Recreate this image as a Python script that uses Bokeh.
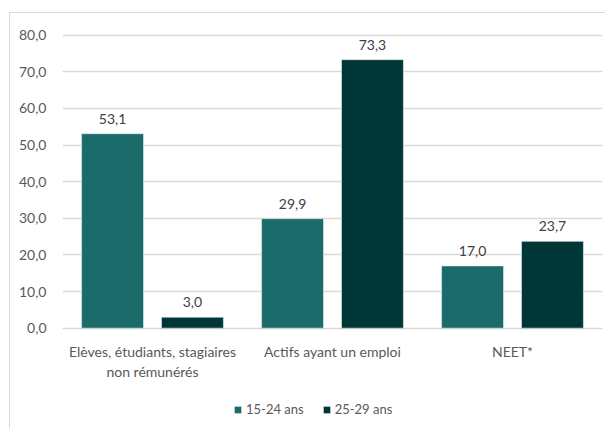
from bokeh.plotting import figure
from bokeh.models import ColumnDataSource, Range1d, FactorRange, CustomJSTickFormatter, Legend, LegendItem, LabelSet
from bokeh.core.properties import value
from bokeh.transform import dodge
from bokeh.embed import file_html
from bokeh.resources import INLINE

categories = ["Elèves, étudiants, stagiaires\nnon rémunérés", "Actifs ayant un emploi", "NEET*"]
series_names = ["15-24 ans", "25-29 ans"]
values_15_24 = [53.1, 29.9, 17.0]
values_25_29 = [3.0, 73.3, 23.7]
y_ticks = [0, 10, 20, 30, 40, 50, 60, 70, 80]

colors = ["#1b6b6b", "#003636"]
FONT = "Lato"

line1 = [c.split("\n")[0] for c in categories]
line2 = [c.split("\n")[1] if "\n" in c else "" for c in categories]

src = ColumnDataSource(dict(
    cat=categories,
    zero=[0] * len(categories),
    l1=line1,
    l2=line2,
    a=values_15_24,
    b=values_25_29,
    a_lbl=[f"{v:.1f}".replace(".", ",") for v in values_15_24],
    b_lbl=[f"{v:.1f}".replace(".", ",") for v in values_25_29],
))

p = figure(width=596, height=416, x_range=FactorRange(*categories), y_range=Range1d(-27.67, 81),
           output_backend="svg", toolbar_location=None,
           min_border_left=52, min_border_right=4, min_border_top=18, min_border_bottom=0)
p.styles = {"border-left": "1px solid #d9d9d9", "border-top": "1px solid #d9d9d9",
            "margin-left": "9px", "margin-top": "12px"}
p.outline_line_color = None
p.x_range.range_padding = 0

r1 = p.vbar(x=dodge("cat", -0.222, range=p.x_range), top="a", width=0.344, source=src,
            fill_color=colors[0], line_color="#e8f0f0", line_width=0.6)
r2 = p.vbar(x=dodge("cat", 0.222, range=p.x_range), top="b", width=0.344, source=src,
            fill_color=colors[1], line_color="#e8f0f0", line_width=0.6)

for col, lbl, off in [("a", "a_lbl", -0.222), ("b", "b_lbl", 0.222)]:
    ls = LabelSet(x=dodge("cat", off, range=p.x_range), y=col, text=lbl, source=src,
                  text_align="center", text_baseline="bottom", y_offset=10,
                  text_font=value(FONT), text_font_size="14px", text_color="#404040")
    p.add_layout(ls)

for field, yoff in [("l1", -15), ("l2", -35)]:
    cl = LabelSet(x="cat", y="zero", text=field, source=src,
                  text_align="center", text_baseline="top", y_offset=yoff,
                  text_font=value(FONT), text_font_size="14px", text_color="#595959")
    p.add_layout(cl)

p.xaxis.visible = False

p.yaxis.ticker = y_ticks
p.yaxis.formatter = CustomJSTickFormatter(code="return tick.toFixed(1).replace('.', ',');")
p.yaxis.axis_line_color = None
p.yaxis.major_tick_line_color = None
p.yaxis.minor_tick_line_color = None
p.yaxis.major_label_text_font = FONT
p.yaxis.major_label_text_font_size = "14px"
p.yaxis.major_label_text_color = "#595959"
p.yaxis.major_label_standoff = 10

p.xgrid.grid_line_color = None
p.ygrid.ticker = y_ticks
p.ygrid.grid_line_color = "#d9d9d9"
p.ygrid.grid_line_width = 1.5

legend = Legend(items=[LegendItem(label=series_names[0], renderers=[r1]),
                       LegendItem(label=series_names[1], renderers=[r2])],
                orientation="horizontal", location=(171, 12),
                label_text_font=FONT, label_text_font_size="13px", label_text_color="#595959",
                glyph_width=9, glyph_height=9, spacing=18, label_standoff=4,
                border_line_color=None, background_fill_alpha=0, margin=0, padding=4)
p.add_layout(legend)

open("out.html", "w").write(file_html(p, INLINE))
